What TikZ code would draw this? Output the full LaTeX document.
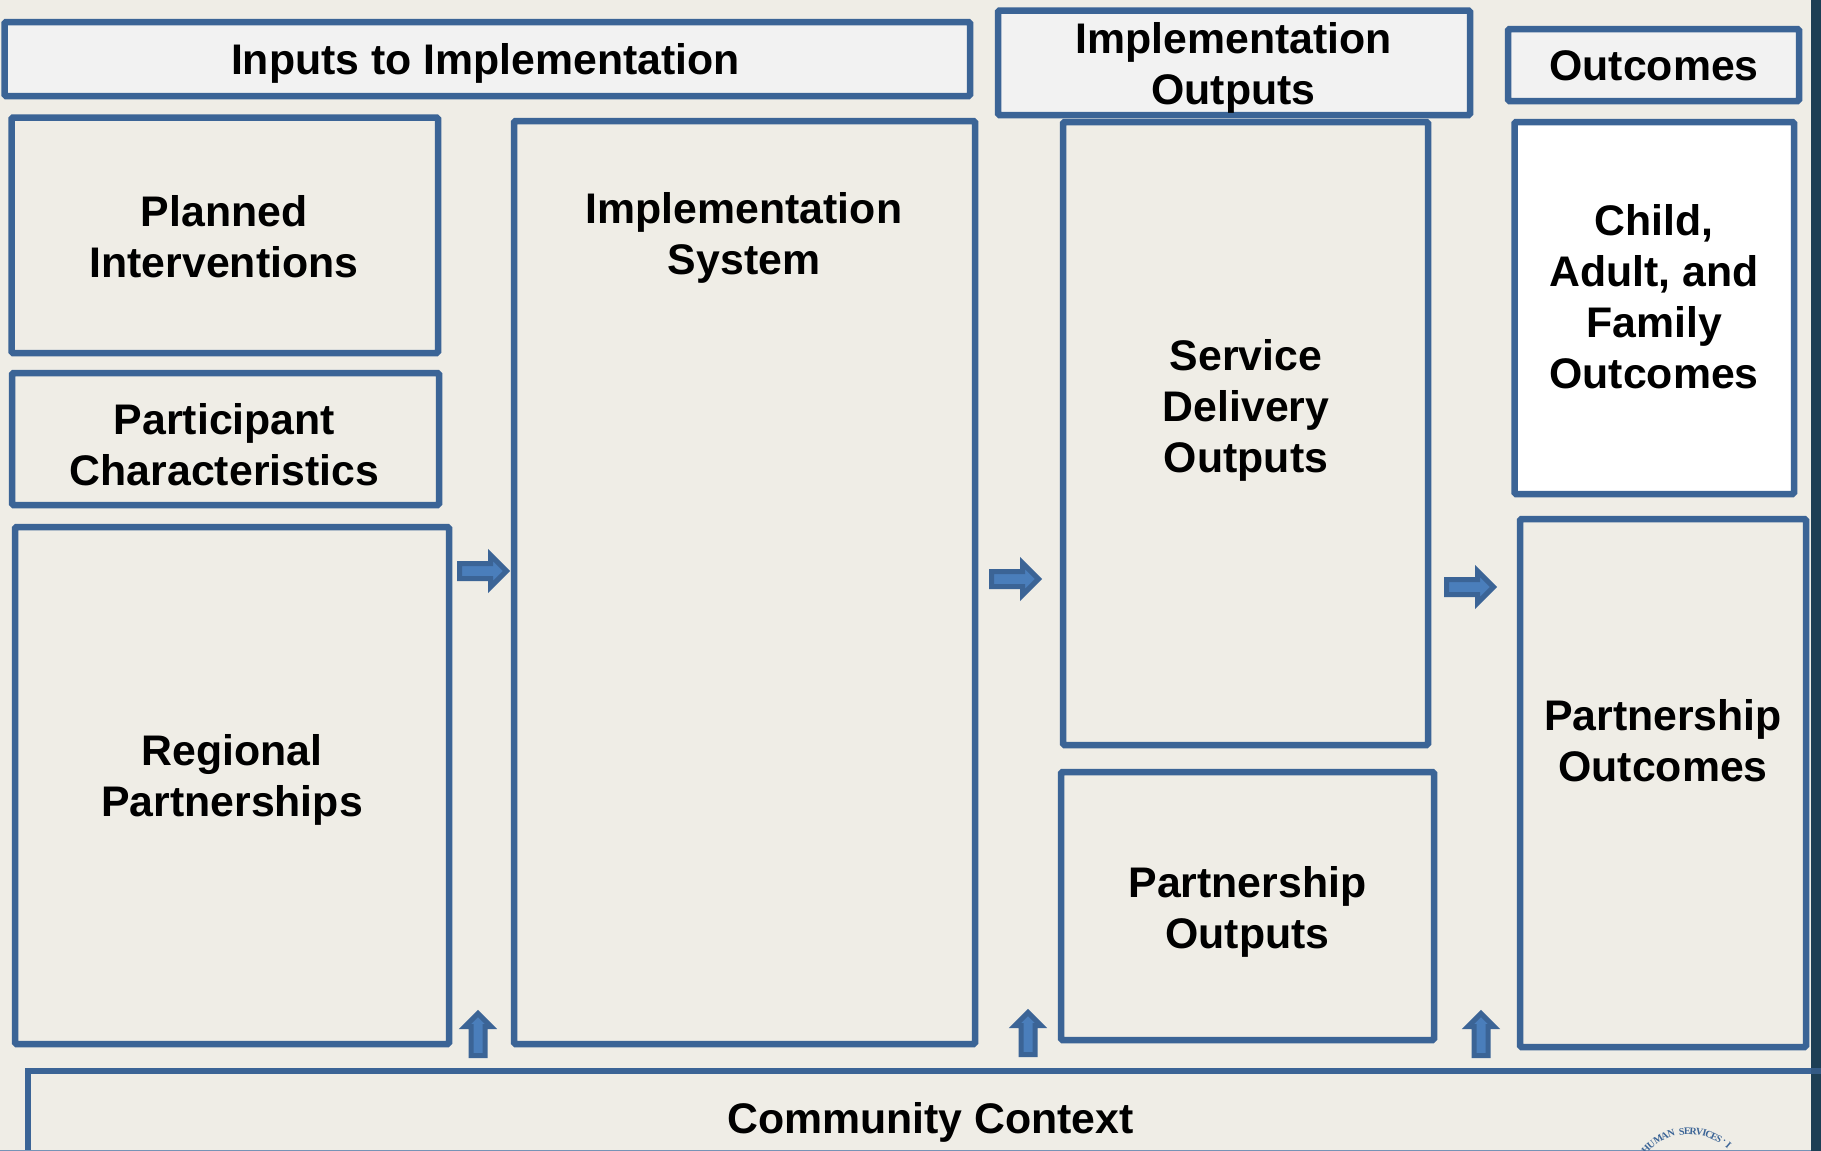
\documentclass[tikz,border=0pt]{standalone}
\usepackage{fontspec}
\setmainfont{Liberation Sans}
\newfontfamily\sealfont{Liberation Serif}
\definecolor{canvas}{HTML}{EFEDE6}
\definecolor{frameblue}{HTML}{3B6496}
\definecolor{arrowblue}{HTML}{4A7EBB}
\definecolor{headerfill}{HTML}{F2F2F2}
\definecolor{edgebar}{HTML}{1D3F55}
\tikzset{
  x=1pt,y=-1pt,
  framebox/.style={draw=frameblue,line width=6.5pt,rounded corners=1.5pt},
  boxtext/.style={font=\bfseries\fontsize{42.8}{51}\selectfont,align=center,text=black,inner sep=0pt},
  blockarrow/.style={draw=frameblue,line width=5pt,fill=arrowblue,miter limit=10},
  sealletter/.style={font=\sealfont\bfseries\fontsize{10}{12}\selectfont,text=frameblue,inner sep=0pt}
}
\newcommand{\rightblock}[2]{\draw[blockarrow,shift={(#1,#2)}]
  (-23.5,-7.5)--(7.5,-7.5)--(7.5,-16)--(23.5,0)--(7.5,16)--(7.5,7.5)--(-23.5,7.5)--cycle;}
\newcommand{\upblock}[2]{\draw[blockarrow,shift={(#1,#2)}]
  (-7,21.5)--(-7,-7.5)--(-13,-7.5)--(0,-20.5)--(13,-7.5)--(7,-7.5)--(7,21.5)--cycle;}
\begin{document}
\begin{tikzpicture}
\useasboundingbox (0,0) rectangle (1821,1151);
\fill[canvas] (0,0) rectangle (1821,1151);
% boxes
\draw[framebox,fill=headerfill] (4.5,22) rectangle (970,96);
\draw[framebox,fill=headerfill] (998,10.5) rectangle (1470,115);
\draw[framebox,fill=headerfill] (1508,29) rectangle (1799,101);
\draw[framebox] (11.5,117.5) rectangle (438,353);
\draw[framebox] (12,373) rectangle (439,505);
\draw[framebox] (15,527) rectangle (449,1044);
\draw[framebox] (514,121) rectangle (975,1044);
\draw[framebox] (1063,122) rectangle (1428,745);
\draw[framebox] (1061,772) rectangle (1434,1040);
\draw[framebox,fill=white] (1514.5,122) rectangle (1794,494);
\draw[framebox] (1520,519) rectangle (1806,1047);
\draw[frameblue,line width=6.5pt] (28,1160)--(28,1071)--(1811,1071);
% right edge and bottom rule
\fill[edgebar] (1811,0) rectangle (1821,1151);
\draw[frameblue,line width=6.5pt,opacity=.75] (1811,1071)--(1821,1071);
\draw[frameblue!70,line width=1pt] (0,1150.5)--(1811,1150.5);
% labels
\node[boxtext] (tInputs) at (485.5,63.5) {Inputs to Implementation};
\node[boxtext] (tImplOut) at (1233.5,67.5) {Implementation\\Outputs};
\node[boxtext] (tOutcomes) at (1654,66) {Outcomes};
\node[boxtext] (tPlanned) at (224,237) {Planned\\Interventions};
\node[boxtext] (tPartic) at (224.5,445) {Participant\\Characteristics};
\node[boxtext] (tRegional) at (232,779.5) {Regional\\Partnerships};
\node[boxtext] (tImplSys) at (744,238) {Implementation\\System};
\node[boxtext] (tService) at (1246,410) {Service\\Delivery\\Outputs};
\node[boxtext] (tPartOut) at (1247.5,912) {Partnership\\Outputs};
\node[boxtext] (tChild) at (1654,297) {Child,\\Adult, and\\Family\\Outcomes};
\node[boxtext] (tPartOutc) at (1663,741) {Partnership\\Outcomes};
\node[boxtext] (tCommunity) at (930.5,1122) {Community Context};
% block arrows
\rightblock{483}{571}
\rightblock{1015}{579}
\rightblock{1470}{587}
\upblock{478}{1034}
\upblock{1028}{1033}
\upblock{1481}{1034}
% seal lettering
\begin{scope}
\clip (1600,1100) rectangle (1811,1150);
\foreach \ang/\ch [count=\i] in {-46/H,-39/U,-31/M,-24/A,-17.5/N,-7/S,-1.5/E,4/R,10/V,15/I,19.5/C,25/E,30/S,35.5/{\textperiodcentered},41/I}{
  \node[sealletter,rotate=-\ang] (seal\i) at ({1689+60*sin(\ang)},{1191-60*cos(\ang)}) {\ch};
}
\end{scope}
\end{tikzpicture}
\end{document}
